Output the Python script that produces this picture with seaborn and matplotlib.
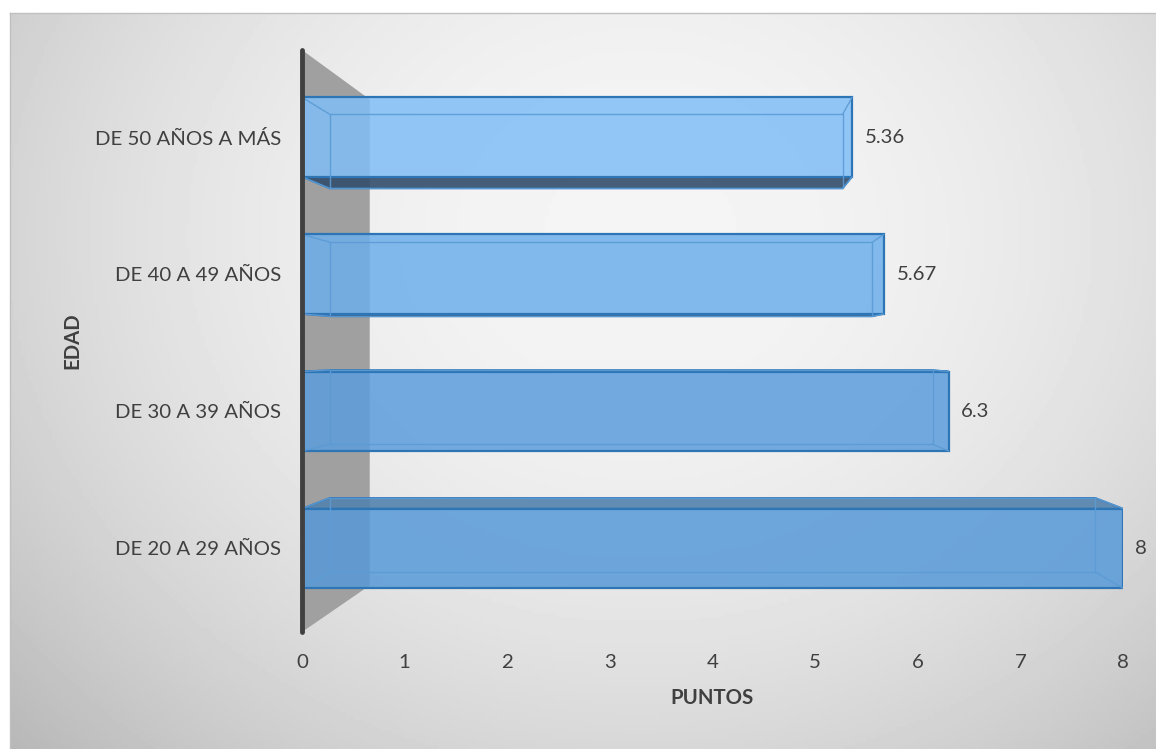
import numpy as np
import pandas as pd
import seaborn as sns
import matplotlib.pyplot as plt
from matplotlib.patches import Polygon

# datos del grafico
edades = ['DE 50 AÑOS A MÁS', 'DE 40 A 49 AÑOS', 'DE 30 A 39 AÑOS', 'DE 20 A 29 AÑOS']
puntos = [5.36, 5.67, 6.3, 8]
etiquetas = ['5.36', '5.67', '6.3', '8']
colores = ['#80BEF7', '#6DAFEC', '#5C9DDC', '#579AD8']

df = pd.DataFrame({'edad': edades, 'puntos': puntos})

sns.set_style('white')
plt.rcParams['font.family'] = ['Lato', 'DejaVu Sans']
gris = '#404040'
fs = 14.7

fig = plt.figure(figsize=(11.56, 7.49), dpi=100)

# fondo degradado
bg = fig.add_axes([10 / 1156, 0, 1146 / 1156, 736 / 749])
xx, yy = np.meshgrid(np.linspace(0, 1, 300), np.linspace(0, 1, 200))
r2 = ((xx - 0.55) / 0.6) ** 2 + ((yy - 0.3) / 0.8) ** 2
v = np.clip(0.96 - 0.15 * r2, 0, 1)
bg.imshow(v, cmap='gray', vmin=0, vmax=1, aspect='auto', extent=(0, 1, 1, 0))
bg.set_xlim(0, 1)
bg.set_ylim(1, 0)
bg.set_xticks([])
bg.set_yticks([])
for s in ['right', 'bottom']:
    bg.spines[s].set_visible(False)
for s in ['top', 'left']:
    bg.spines[s].set_color('#c0c0c0')
    bg.spines[s].set_linewidth(1)

ax = fig.add_axes([302 / 1156, 1 - 632 / 749, 821 / 1156, 582 / 749])
ax.patch.set_alpha(0)

sns.barplot(data=df, x='puntos', y='edad', hue='edad', palette=colores,
            orient='h', width=0.58, legend=False, ax=ax, saturation=1,
            edgecolor='#2E75B6', linewidth=1.6)

ax.set_xlim(0, 8)
ax.set_ylim(3.61, -0.635)

# perspectiva 3D
vx, vy, k = 4.0, 1.55, 0.933
kw = 0.835

def fondo(px, py, kk):
    return vx + kk * (px - vx), vy + kk * (py - vy)

# pared gris
y0, y1 = ax.get_ylim()[1], ax.get_ylim()[0]
wx, wy0 = fondo(0, y0, kw)
_, wy1 = fondo(0, y1, kw)
ax.add_patch(Polygon([(0, y0), (wx, wy0), (wx, wy1), (0, y1)], closed=True,
                     facecolor='#a0a0a0', edgecolor='none', zorder=0.5))

for p in [b for c in ax.containers for b in c]:
    fc = p.get_facecolor()
    p.set_facecolor((fc[0], fc[1], fc[2], 0.85))
    p.set_zorder(2)
    x0, w = p.get_x(), p.get_width()
    yt, h = p.get_y(), p.get_height()
    x1, yb = x0 + w, yt + h
    bx0, byt = fondo(x0, yt, k)
    bx1, byb = fondo(x1, yb, k)
    # cara superior o inferior visible
    if byb > yb:
        cara = [(x0, yb), (x1, yb), (bx1, byb), (bx0, byb)]
        ax.add_patch(Polygon(cara, closed=True, facecolor=(0.20, 0.30, 0.42, 0.9),
                             edgecolor='#2E75B6', linewidth=1.2, zorder=1.8))
    if byt < yt:
        cara = [(x0, yt), (x1, yt), (bx1, byt), (bx0, byt)]
        ax.add_patch(Polygon(cara, closed=True, facecolor=(0.33, 0.51, 0.68, 0.9),
                             edgecolor='#2E75B6', linewidth=1.2, zorder=1.8))
    # aristas interiores
    linea = dict(color='#5B9BD5', linewidth=1.0, alpha=0.9, zorder=2.1)
    ax.plot([bx0, bx1, bx1, bx0, bx0], [byt, byt, byb, byb, byt], **linea)
    for (a, b), (c, d) in [((x0, yt), (bx0, byt)), ((x1, yt), (bx1, byt)),
                           ((x1, yb), (bx1, byb)), ((x0, yb), (bx0, byb))]:
        ax.plot([a, c], [b, d], **linea)

for c, t in zip(ax.containers, etiquetas):
    ax.bar_label(c, labels=[t], padding=9, fontsize=fs, color=gris)

ax.set_xticks(range(0, 9))
ax.tick_params(axis='both', length=0, labelsize=fs, labelcolor=gris)
ax.tick_params(axis='x', pad=16)
ax.tick_params(axis='y', pad=15)

for s in ['top', 'right', 'bottom']:
    ax.spines[s].set_visible(False)
ax.spines['left'].set_color(gris)
ax.spines['left'].set_linewidth(3.5)
ax.spines['left'].set_capstyle('round')
ax.spines['left'].set_zorder(3)

ax.set_xlabel('PUNTOS', fontsize=fs, fontweight='bold', color=gris, va='center')
ax.set_ylabel('EDAD', fontsize=fs, fontweight='bold', color=gris, va='center')
ax.xaxis.set_label_coords(0.5, (632 - 698) / 582)
ax.yaxis.set_label_coords((72 - 302) / 821, 0.5)

fig.savefig('out.png', dpi=100)
